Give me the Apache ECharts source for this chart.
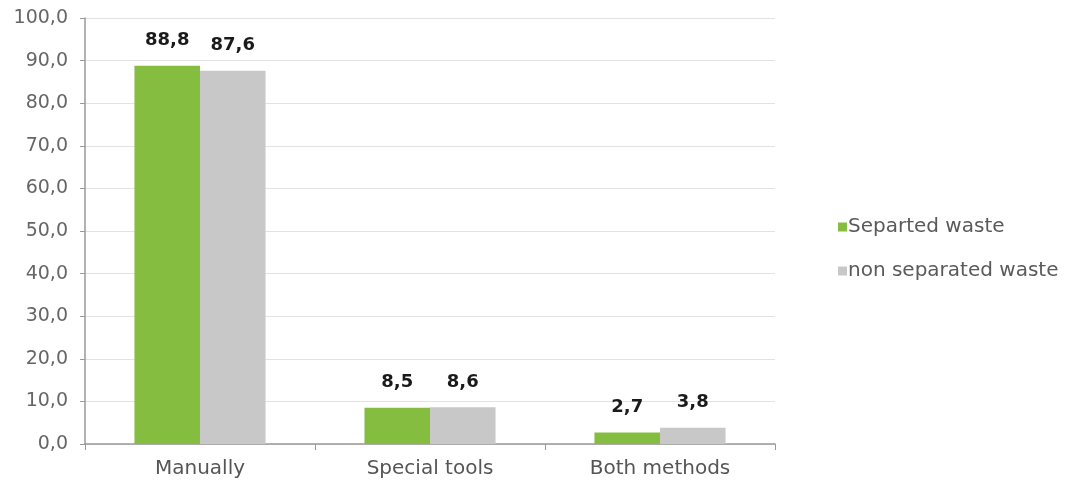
<!DOCTYPE html>
<html>
<head>
<meta charset="utf-8">
<script src="https://cdn.jsdelivr.net/npm/echarts@6/dist/echarts.min.js"></script>
<style>
  html, body { margin: 0; padding: 0; background: #fff; }
  #chart { width: 1075px; height: 488px; }
</style>
</head>
<body>
<div id="chart"></div>
<script>
// Cleaning method by waste type (%)
const categories = ['Manually', 'Special tools', 'Both methods'];
const separatedWaste = [88.8, 8.5, 2.7];
const nonSeparatedWaste = [87.6, 8.6, 3.8];
const seriesNames = ['Separted waste', 'non separated waste'];

const FONT = '"DejaVu Sans", sans-serif';
const fmt = v => v.toFixed(1).replace('.', ',');

const chart = echarts.init(document.getElementById('chart'));

const labelStyle = {
  show: true,
  position: 'top',
  distance: 16,
  color: '#1a1a1a',
  fontFamily: FONT,
  fontWeight: 'bold',
  fontSize: 18,
  formatter: p => fmt(p.value)
};

chart.setOption({
  animation: false,
  textStyle: { fontFamily: FONT },
  grid: { left: 85, right: 300, top: 18, bottom: 44, containLabel: false },
  legend: {
    orient: 'vertical',
    left: 833,
    top: 212,
    itemWidth: 9,
    itemHeight: 9,
    itemGap: 24,
    icon: 'rect',
    textStyle: { color: '#5a5a5a', fontSize: 20, fontFamily: FONT, padding: [0, 0, 0, -4] },
    data: seriesNames
  },
  xAxis: {
    type: 'category',
    data: categories,
    axisLine: { lineStyle: { color: '#999', width: 1.5 } },
    axisTick: { show: true, length: 6, lineStyle: { color: '#999' } },
    axisLabel: { color: '#555', fontSize: 20, fontFamily: FONT, margin: 15 }
  },
  yAxis: {
    type: 'value',
    min: 0,
    max: 100,
    interval: 10,
    axisLine: { show: true, lineStyle: { color: '#999', width: 1.5 } },
    axisTick: { show: true, length: 5, lineStyle: { color: '#999' } },
    axisLabel: { color: '#666', fontSize: 19, fontFamily: FONT, margin: 17, formatter: v => fmt(v) },
    splitLine: { lineStyle: { color: '#e2e2e2', width: 1 } }
  },
  series: [
    {
      name: seriesNames[0],
      type: 'bar',
      data: separatedWaste,
      barGap: '0%',
      barCategoryGap: '43%',
      itemStyle: { color: '#84bd40' },
      label: labelStyle
    },
    {
      name: seriesNames[1],
      type: 'bar',
      data: nonSeparatedWaste,
      itemStyle: { color: '#c8c8c8' },
      label: labelStyle
    }
  ]
});
</script>
</body>
</html>
